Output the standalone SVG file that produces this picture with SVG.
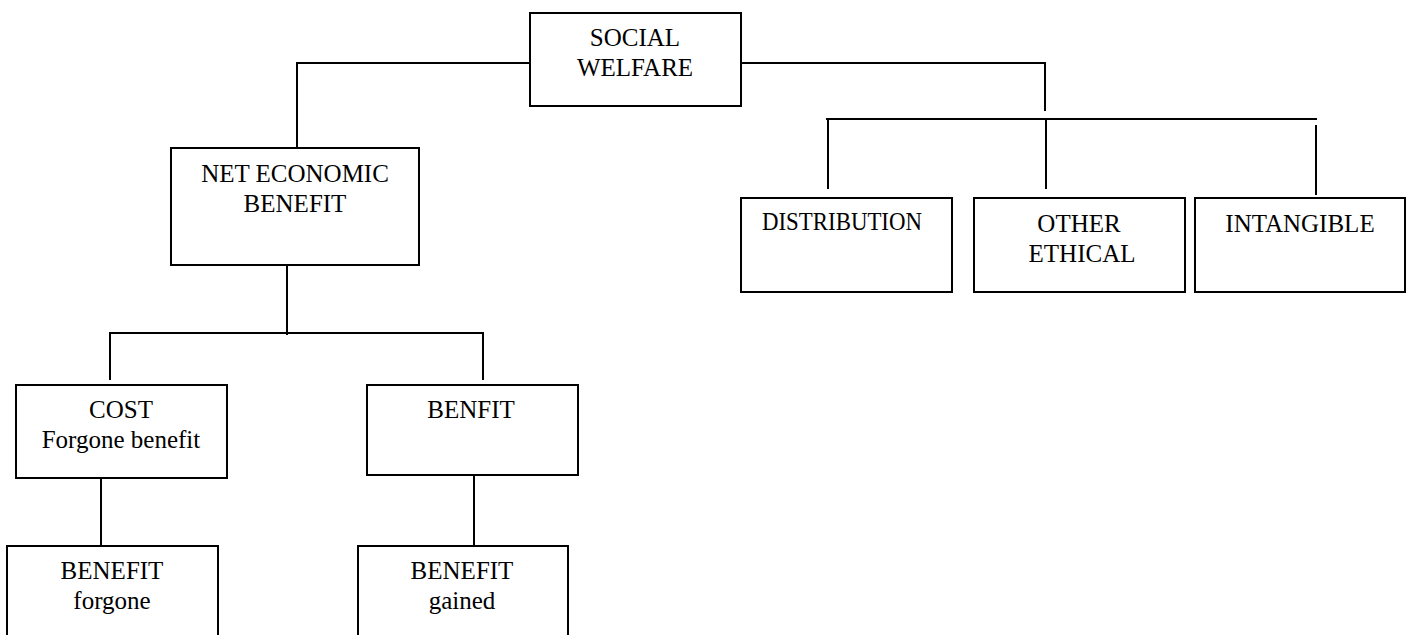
<svg xmlns="http://www.w3.org/2000/svg" width="1411" height="635" viewBox="0 0 1411 635">
<style>
.box{fill:#fff;stroke:#000;stroke-width:2}
.ln{fill:none;stroke:#000;stroke-width:2}
text{font-family:"Liberation Serif","Times New Roman",serif;font-size:25px;fill:#000;text-anchor:middle}
</style>
<rect width="1411" height="635" fill="#fff"/>
<g id="connectors">
<polyline class="ln" points="530,63 297,63 297,157"/>
<polyline class="ln" points="741,63 1045,63 1045,111"/>
<line class="ln" x1="826" y1="119" x2="1317" y2="119"/>
<line class="ln" x1="828" y1="119" x2="828" y2="189"/>
<line class="ln" x1="1046" y1="119" x2="1046" y2="189"/>
<line class="ln" x1="1316" y1="125" x2="1316" y2="195"/>
<line class="ln" x1="287" y1="265" x2="287" y2="335"/>
<polyline class="ln" points="110,380 110,333 483,333 483,380"/>
<line class="ln" x1="101" y1="477" x2="101" y2="546"/>
<line class="ln" x1="474" y1="475" x2="474" y2="546"/>
</g>
<g id="social-welfare">
<rect class="box" x="530" y="13" width="211" height="93"/>
<text x="635" y="46">SOCIAL</text>
<text x="635" y="76">WELFARE</text>
</g>
<g id="net-economic-benefit">
<rect class="box" x="171" y="148" width="248" height="117"/>
<text x="295" y="182">NET ECONOMIC</text>
<text x="295" y="212">BENEFIT</text>
</g>
<g id="distribution">
<rect class="box" x="741" y="198" width="211" height="94"/>
<text x="842" y="230" font-size="23" textLength="160" lengthAdjust="spacingAndGlyphs">DISTRIBUTION</text>
</g>
<g id="other-ethical">
<rect class="box" x="974" y="198" width="211" height="94"/>
<text x="1079" y="232">OTHER</text>
<text x="1082" y="262">ETHICAL</text>
</g>
<g id="intangible">
<rect class="box" x="1195" y="198" width="210" height="94"/>
<text x="1300" y="232">INTANGIBLE</text>
</g>
<g id="cost">
<rect class="box" x="16" y="385" width="211" height="93"/>
<text x="121" y="418">COST</text>
<text x="121" y="448">Forgone benefit</text>
</g>
<g id="benfit">
<rect class="box" x="367" y="385" width="211" height="90"/>
<text x="471" y="418">BENFIT</text>
</g>
<g id="benefit-forgone">
<rect class="box" x="7" y="546" width="211" height="100"/>
<text x="112" y="579">BENEFIT</text>
<text x="112" y="609">forgone</text>
</g>
<g id="benefit-gained">
<rect class="box" x="358" y="546" width="210" height="100"/>
<text x="462" y="579">BENEFIT</text>
<text x="462" y="609">gained</text>
</g>
</svg>
